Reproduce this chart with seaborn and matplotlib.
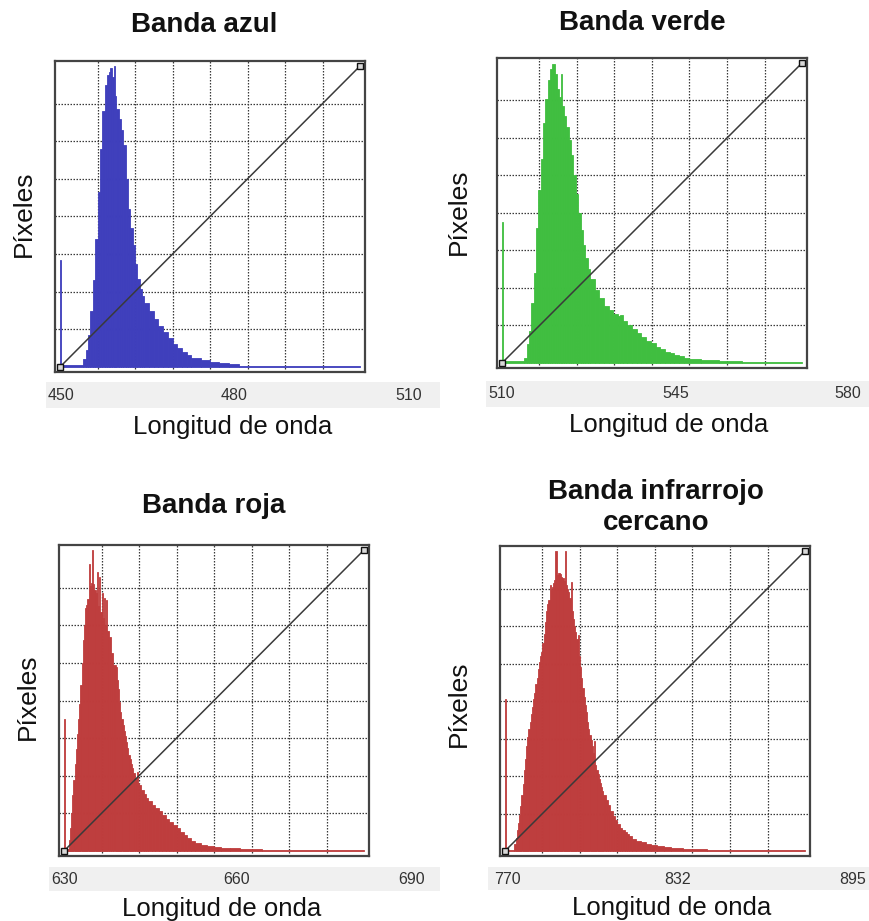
import numpy as np
import pandas as pd
import matplotlib
matplotlib.use("Agg")
import matplotlib.pyplot as plt
import seaborn as sns

# ---------------- data (DN bins 0-256, heights in grid units 0-8) ----------------
azul_izq = [0, 1, 20, 22, 24, 26, 28, 30, 32, 34, 36, 38, 40, 42, 43, 44, 46, 47, 48, 50,
            52, 54, 56, 58, 60, 62, 64, 66, 68, 70, 72, 76, 80, 84, 88, 92, 96, 100, 104, 108,
            112, 120, 128, 136, 144, 153]
azul_alt = [2.84, 0.04, 0.2, 0.45, 0.85, 1.5, 2.3, 3.4, 4.65, 5.8, 6.8, 7.5, 7.75, 7.85, 7.95, 7.7, 8.0, 7.2, 6.85, 6.6,
            6.3, 5.9, 5.0, 4.2, 3.7, 3.25, 2.75, 2.35, 2.08, 1.88, 1.7, 1.48, 1.28, 1.1, 0.92, 0.76, 0.62, 0.5, 0.4, 0.32,
            0.25, 0.18, 0.13, 0.1, 0.075, 0.035]

verde_izq = [0, 1, 19, 21, 23, 25, 27, 29, 31, 33, 35, 37, 39, 41, 43, 45, 47, 49, 50, 51,
             53, 55, 57, 59, 61, 63, 65, 67, 69, 71, 73, 75, 79, 83, 87, 91, 95, 99, 101, 103,
             107, 111, 115, 119, 123, 127, 131, 135, 139, 143, 147, 151, 155, 160, 170, 185, 205]
verde_alt = [3.75, 0.05, 0.12, 0.5, 0.85, 1.6, 2.4, 3.6, 4.6, 5.45, 6.4, 7.05, 7.55, 7.85, 7.98, 7.7, 7.3, 7.1, 7.71, 6.85,
             6.6, 6.3, 5.95, 5.55, 5.0, 4.5, 4.0, 3.55, 3.15, 2.8, 2.5, 2.25, 1.95, 1.72, 1.52, 1.4, 1.3, 1.25, 1.28, 1.12,
             1.0, 0.9, 0.8, 0.7, 0.6, 0.52, 0.43, 0.37, 0.3, 0.26, 0.22, 0.18, 0.14, 0.1, 0.07, 0.05, 0.03]

roja_izq = [0, 1, 4, 5, 6, 7, 8, 9, 10, 11, 12, 13, 14, 15, 16, 17, 18, 19, 20, 21,
            22, 23, 24, 25, 26, 27, 28, 29, 30, 31, 32, 33, 34, 35, 36, 37, 38, 40, 42, 44,
            45, 46, 47, 48, 49, 50, 51, 52, 53, 54, 55, 56, 57, 58, 59, 61, 62, 63, 64, 66,
            68, 70, 72, 75, 78, 81, 84, 87, 90, 93, 96, 99, 102, 105, 108, 112, 117, 122, 128, 134,
            142, 150, 169]
roja_alt = [3.5, 0.05, 0.3, 0.6, 1.0, 1.5, 1.9, 2.3, 2.7, 3.1, 3.5, 3.9, 4.4, 5.0, 5.6, 6.0, 6.45, 6.55, 6.7, 7.64,
            7.05, 7.13, 8.0, 7.1, 6.95, 6.85, 7.42, 6.5, 7.29, 6.35, 6.85, 6.2, 6.72, 6.0, 6.67, 5.85, 5.7, 5.25, 4.95, 4.9,
            4.55, 4.3, 3.95, 3.7, 3.5, 3.35, 3.2, 3.05, 2.9, 2.75, 2.55, 2.45, 2.3, 2.2, 2.08, 1.95, 2.1, 1.82, 1.75, 1.62,
            1.52, 1.42, 1.33, 1.23, 1.14, 1.05, 0.95, 0.86, 0.78, 0.69, 0.6, 0.51, 0.42, 0.34, 0.27, 0.2, 0.15, 0.12, 0.1, 0.09,
            0.08, 0.05, 0.03]

nir_izq = [0, 1, 8, 9, 10, 11, 12, 13, 14, 15, 16, 17, 18, 19, 20, 21, 22, 23, 24, 25,
           26, 27, 28, 29, 30, 31, 32, 33, 34, 35, 36, 37, 38, 39, 40, 41, 42, 43, 44, 45,
           47, 48, 49, 50, 51, 52, 53, 54, 55, 56, 57, 58, 59, 60, 61, 62, 63, 64, 65, 66,
           67, 68, 69, 70, 71, 72, 73, 74, 75, 76, 77, 78, 79, 80, 81, 82, 83, 84, 86, 88,
           90, 92, 94, 96, 98, 100, 102, 104, 106, 108, 112, 116, 120, 125, 130, 136, 142, 152, 172]
nir_alt = [4.06, 0.03, 0.2, 0.35, 0.55, 0.75, 0.95, 1.2, 1.5, 1.8, 2.15, 2.45, 2.8, 3.05, 3.25, 3.45, 3.65, 3.85, 4.05, 4.2,
           4.45, 4.6, 4.85, 5.05, 5.2, 5.3, 5.55, 5.8, 6.1, 6.4, 6.6, 6.7, 7.09, 6.95, 7.05, 7.15, 7.22, 8.0, 7.35, 7.4,
           7.38, 7.3, 7.27, 7.2, 8.0, 7.1, 7.0, 6.9, 6.75, 7.18, 6.4, 6.2, 6.0, 5.85, 5.65, 5.75, 5.2, 4.9, 4.6, 4.35,
           4.1, 3.9, 3.7, 3.45, 3.25, 3.1, 2.95, 2.8, 2.6, 2.94, 2.3, 2.15, 2.05, 1.92, 1.8, 1.7, 1.6, 1.5, 1.36, 1.22,
           1.07, 0.93, 0.82, 0.72, 0.62, 0.55, 0.5, 0.45, 0.39, 0.32, 0.27, 0.23, 0.19, 0.15, 0.12, 0.1, 0.08, 0.05, 0.035]

titulos = ["Banda azul", "Banda verde", "Banda roja", "Banda infrarrojo\ncercano"]
etiquetas = [["450", "480", "510"], ["510", "545", "580"], ["630", "660", "690"], ["770", "832", "895"]]
colores = ["#3f3fbc", "#40be40", "#be3d3d", "#be3d3d"]
DN_MAX = 256
GRID_N = 8

# ---------------- layout (pixels) ----------------
W, H = 870, 921
sns.set_theme(style="white")
plt.rcParams['font.family'] = ['Liberation Sans', 'DejaVu Sans']
fig = plt.figure(figsize=(W / 100, H / 100), dpi=100)
fig.patch.set_facecolor("white")


def px_axes(x0, y0, x1, y1):
    return fig.add_axes([x0 / W, 1 - y1 / H, (x1 - x0) / W, (y1 - y0) / H])


def ftext(x, y, s, **kw):
    fig.text(x / W, 1 - y / H, s, ha="center", va="center", **kw)


paneles = [
    dict(box=(55, 61, 365, 372), strip=(46, 382, 440, 408), lab_x=(61, 234, 409), lab_y=395,
         title=(204, 25), ylab=(24, 214), xlab=(233, 427)),
    dict(box=(497, 58, 807, 368), strip=(486, 381, 870, 407), lab_x=(502, 676, 848), lab_y=394,
         title=(642, 23), ylab=(459, 212), xlab=(669, 425)),
    dict(box=(59, 545, 369, 856), strip=(49, 867, 440, 891), lab_x=(65, 237, 412), lab_y=879,
         title=(214, 506), ylab=(28, 697), xlab=(222, 909)),
    dict(box=(500, 546, 810, 856), strip=(488, 867, 870, 890), lab_x=(507, 678, 853), lab_y=879,
         title=(656, 507), ylab=(459, 704), xlab=(672, 908)),
]

datos = [(azul_izq, azul_alt), (verde_izq, verde_alt), (roja_izq, roja_alt), (nir_izq, nir_alt)]

for i, p in enumerate(paneles):
    izq, alt = datos[i]
    assert len(izq) == len(alt), (i, len(izq), len(alt))
    edges = [float(v) for v in izq] + [float(DN_MAX)]
    centers = [(a + b) / 2 for a, b in zip(edges[:-1], edges[1:])]
    df = pd.DataFrame({"nivel": centers, "pix": [float(v) for v in alt]})

    # strip behind labels
    sax = px_axes(*p["strip"])
    sax.set_facecolor("#f0f0f0")
    for s in sax.spines.values():
        s.set_visible(False)
    sax.set_xticks([]); sax.set_yticks([])

    ax = px_axes(*p["box"])
    ax.set_facecolor("white")
    sns.histplot(data=df, x="nivel", weights="pix", bins=edges, element="bars", fill=True,
                 color=colores[i], alpha=1, linewidth=0.6, edgecolor=colores[i], ax=ax, zorder=2)
    mx = DN_MAX * 5 / 300
    my = GRID_N * 5 / 300
    ax.set_xlim(-mx, DN_MAX + mx)
    ax.set_ylim(-my, GRID_N + my)
    ax.set_xticks(np.arange(1, GRID_N) * DN_MAX / GRID_N)
    ax.set_yticks(np.arange(1, GRID_N))
    ax.set_axisbelow(True)
    ax.grid(True, color="#3a3a3a", linestyle=(0, (1.2, 1.2)), linewidth=0.9)
    ax.tick_params(length=0, labelbottom=False, labelleft=False)
    ax.set_xlabel(""); ax.set_ylabel("")
    for s in ax.spines.values():
        s.set_color("#444444"); s.set_linewidth(1.6); s.set_visible(True)
    ax.plot([0, DN_MAX], [0, GRID_N], color="#3a3a3a", lw=1.1, zorder=3)
    ax.plot([0, DN_MAX], [0, GRID_N], ls="none", marker="s", ms=5, mfc="#d8d8d8",
            mec="#111111", mew=1.0, zorder=4)

    for lx, t in zip(p["lab_x"], etiquetas[i]):
        ftext(lx, p["lab_y"], t, fontsize=11.5, color="#333333")
    ftext(p["title"][0], p["title"][1], titulos[i], fontsize=20, fontweight="bold",
          color="#111111", linespacing=1.25)
    ftext(p["ylab"][0], p["ylab"][1], "Píxeles", fontsize=19, rotation=90, color="#111111")
    ftext(p["xlab"][0], p["xlab"][1], "Longitud de onda", fontsize=18.5, color="#111111")

fig.savefig("out.png", dpi=100, facecolor="white")
